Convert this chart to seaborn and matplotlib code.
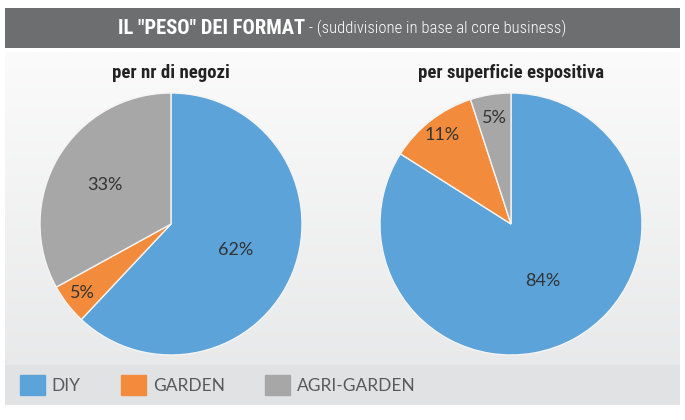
import numpy as np
import matplotlib.pyplot as plt
import matplotlib.patches as mpatches
from matplotlib import font_manager
import seaborn as sns

#----------DATA-----------------#
categories = ["DIY", "GARDEN", "AGRI-GARDEN"]
negozi = [62, 5, 33]
superficie = [84, 11, 5]
pie_titles = ["per nr di negozi", "per superficie espositiva"]
header_main = 'IL "PESO" DEI FORMAT'
header_sub = " - (suddivisione in base al core business)"
label_radius = [[0.53, 0.86, 0.59], [0.50, 0.86, 0.82]]
colors = ["#5ba3d9", "#f28c3c", "#a7a7a7"]

#----------STYLE----------------#
sns.set_theme(style="white")
plt.rcParams["font.family"] = ["DejaVu Sans"]

installed = {f.name for f in font_manager.fontManager.ttflist}
narrow = "DejaVu Sans"
for cand in ["Roboto Condensed", "Open Sans Condensed", "Liberation Sans Narrow", "DejaVu Sans Condensed"]:
    if cand in installed:
        narrow = cand
        break
is_narrow = narrow != "DejaVu Sans"
light = ["Lato", "DejaVu Sans"]

fig = plt.figure(figsize=(6.85, 4.2), dpi=100)
fig.patch.set_facecolor("white")

# background panel with light gradient
bg = fig.add_axes([5 / 685, 15 / 420, 675 / 685, 353 / 420])
grad = np.linspace(0, 1, 256).reshape(-1, 1)
bg.imshow(grad, aspect="auto", cmap=sns.blend_palette(["#fbfbfb", "#e6e7e8"], as_cmap=True),
          extent=[0, 1, 0, 1], origin="upper")
bg.set_axis_off()

# legend band
band = fig.add_axes([5 / 685, 15 / 420, 675 / 685, 40 / 420])
band.set_facecolor("#e1e2e3")
band.set_xticks([])
band.set_yticks([])
for s in band.spines.values():
    s.set_visible(False)

# header bar
hdr = fig.add_axes([5 / 685, 372 / 420, 675 / 685, 40 / 420])
hdr.set_facecolor("#6d6e70")
hdr.set_xticks([])
hdr.set_yticks([])
for s in hdr.spines.values():
    s.set_visible(False)

t1 = hdr.text(0, 0.5, header_main, color="white", fontsize=16, fontweight="bold",
              family=[narrow], va="center", ha="left", transform=hdr.transAxes)
t2 = hdr.annotate(header_sub, xy=(1, 0.5), xycoords=t1, color="white", fontsize=13,
                  family=[narrow], fontweight="light", va="center", ha="left")
fig.canvas.draw()
r = fig.canvas.get_renderer()
w = t1.get_window_extent(r).width + t2.get_window_extent(r).width
scale = min(1.0, 446 / w)
t1.set_fontsize(16 * scale)
t2.set_fontsize(13 * scale)
fig.canvas.draw()
w = t1.get_window_extent(r).width + t2.get_window_extent(r).width
hw = hdr.get_window_extent(r).width
t1.set_x(0.5 - w / 2 / hw)

#----------PIES-----------------#
centers = [171, 511]
R = 131
for i, vals in enumerate([negozi, superficie]):
    ax = fig.add_axes([(centers[i] - R) / 685, (420 - 224 - R) / 420, 2 * R / 685, 2 * R / 420])
    wedges, _ = ax.pie(vals, colors=colors, startangle=90, counterclock=False, radius=1,
                       wedgeprops=dict(edgecolor="#f4f4f4", linewidth=1))
    for wd, v, rr in zip(wedges, vals, label_radius[i]):
        ang = np.deg2rad((wd.theta1 + wd.theta2) / 2)
        ax.text(rr * np.cos(ang), rr * np.sin(ang), f"{v}%", ha="center", va="center",
                fontsize=13, color="#333333", family=light)
    ax.set_xlim(-1, 1)
    ax.set_ylim(-1, 1)
    ax.set_aspect("equal")
    ax.set_axis_off()
    fig.text(centers[i] / 685, 1 - 73 / 420, pie_titles[i], ha="center", va="center",
             fontsize=13.5 if is_narrow else 11, fontweight="bold", color="#222222",
             family=[narrow])

#----------LEGEND---------------#
handles = [mpatches.Patch(color=c, label=l) for c, l in zip(colors, categories)]
leg = fig.legend(handles=handles, loc="center left", bbox_to_anchor=(4 / 685, 35 / 420), ncol=3,
                 frameon=False, handlelength=1.45, handleheight=1.45, columnspacing=2.3,
                 handletextpad=0.4, prop=dict(family=light, size=12.5))
for t in leg.get_texts():
    t.set_color("#5a5a5a")

plt.savefig("out.png", dpi=100)
